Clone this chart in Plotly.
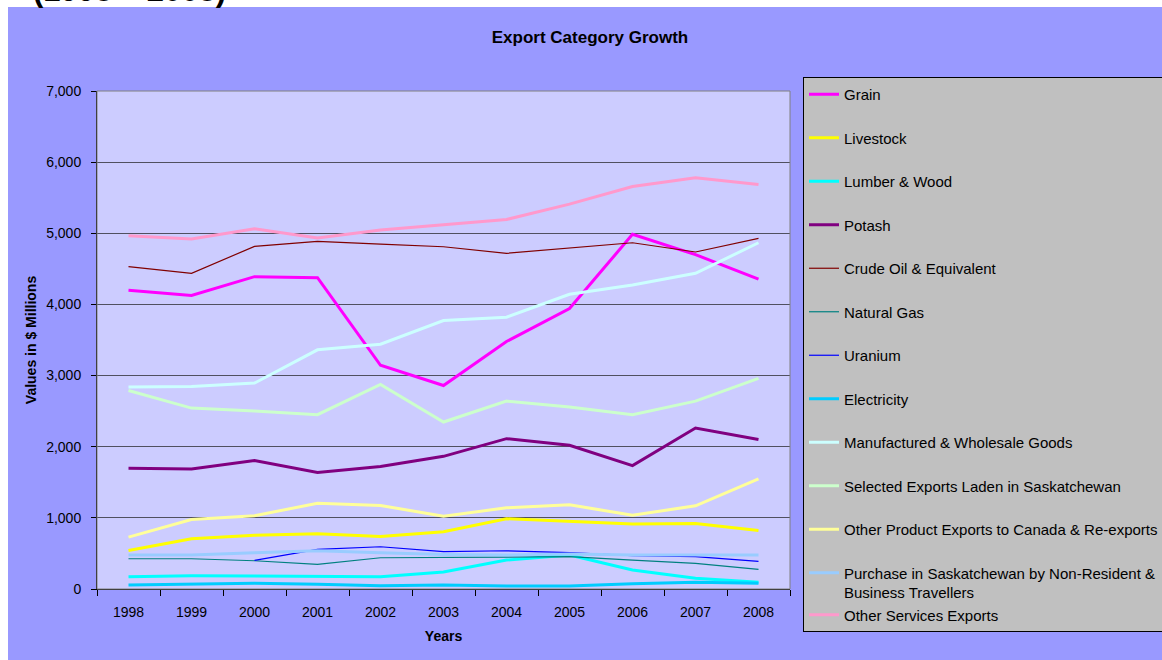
import plotly.graph_objects as go

years = ["1998", "1999", "2000", "2001", "2002", "2003", "2004", "2005", "2006", "2007", "2008"]

grain = [4200, 4125, 4390, 4376, 3145, 2860, 3479, 3942, 4985, 4700, 4355]
livestock = [542, 706, 757, 776, 739, 805, 987, 954, 912, 921, 823]
lumber_wood = [173, 187, 182, 173, 173, 240, 407, 477, 267, 150, 94]
potash = [1697, 1688, 1805, 1637, 1721, 1865, 2113, 2020, 1735, 2263, 2100]
crude_oil = [4531, 4437, 4816, 4886, 4849, 4811, 4718, 4793, 4867, 4737, 4928]
natural_gas = [425, 425, 397, 346, 439, 444, 444, 454, 407, 360, 276]
uranium = [None, None, 403, 557, 594, 524, 538, 510, 468, 454, 389]
electricity = [56, 70, 80, 66, 47, 56, 42, 42, 75, 94, 80]
manufactured = [2838, 2847, 2894, 3362, 3441, 3773, 3820, 4143, 4274, 4437, 4867]
selected_laden = [2791, 2543, 2502, 2450, 2876, 2347, 2641, 2557, 2450, 2641, 2960]
other_product = [729, 977, 1029, 1206, 1174, 1024, 1141, 1183, 1038, 1169, 1548]
purchase_travellers = [477, 477, 510, 538, 510, 486, 477, 491, 477, 477, 477]
other_services = [4965, 4919, 5064, 4933, 5046, 5116, 5194, 5410, 5658, 5779, 5686]

series = [
    ("Grain", grain, "#FF00FF", 3),
    ("Livestock", livestock, "#FFFF00", 3),
    ("Lumber & Wood", lumber_wood, "#00FFFF", 3),
    ("Potash", potash, "#800080", 3),
    ("Crude Oil & Equivalent", crude_oil, "#800000", 1.2),
    ("Natural Gas", natural_gas, "#008080", 1.2),
    ("Uranium", uranium, "#0000FF", 1.2),
    ("Electricity", electricity, "#00CCFF", 3),
    ("Manufactured & Wholesale Goods", manufactured, "#CCFFFF", 3),
    ("Selected Exports Laden in Saskatchewan", selected_laden, "#CCFFCC", 3),
    ("Other Product Exports to Canada & Re-exports", other_product, "#FFFF99", 3),
    ("Purchase in Saskatchewan by Non-Resident &<br>Business Travellers", purchase_travellers, "#99CCFF", 3),
    ("Other Services Exports", other_services, "#FF99CC", 3),
]

FONT = "Arial, Liberation Sans, sans-serif"

fig = go.Figure()
for i, (name, vals, color, w) in enumerate(series):
    group = f"g{min(i, 11)}"  # last two share a group (the two-line entry already adds height)
    fig.add_trace(go.Scatter(
        x=years, y=vals, name=name, mode="lines",
        line=dict(color=color, width=w),
        legendgroup=group, connectgaps=False,
    ))

W, H = 1162, 660
L, R, T, B = 97, 372, 91, 71
pw, ph = W - L - R, H - T - B

def px_x(p):
    return (p - L) / pw

def px_y(p):
    return (H - B - p) / ph

fig.update_layout(
    width=W, height=H,
    margin=dict(l=L, r=R, t=T, b=B, autoexpand=False),
    paper_bgcolor="#9999FF",
    plot_bgcolor="#CCCCFF",
    font=dict(family=FONT, color="black", size=14),
    title=dict(text="<b>Export Category Growth</b>", x=590 / W, xanchor="center",
               y=1 - 37 / H, yanchor="middle", font=dict(size=17, family=FONT)),
    showlegend=True,
    legend=dict(
        xref="container", yref="container",
        x=803 / W, y=1 - 77 / H, xanchor="left", yanchor="top",
        bgcolor="#C0C0C0", bordercolor="black", borderwidth=1,
        font=dict(size=15, family=FONT), tracegroupgap=21, valign="top",
        maxheight=620, entrywidth=400, entrywidthmode="pixels",
        itemclick=False, itemdoubleclick=False,
    ),
    xaxis=dict(
        type="category", range=[-0.5, 10.5], showgrid=False,
        showline=True, linecolor="black", linewidth=1,
        ticks="outside", tickson="boundaries", ticklen=6, tickcolor="black",
        tickfont=dict(size=14), ticklabelstandoff=10,
        title=dict(text="<b>Years</b>", font=dict(size=14), standoff=12),
        zeroline=False,
    ),
    yaxis=dict(
        range=[0, 7000], dtick=1000, tickformat=",",
        showgrid=True, gridcolor="#505060", gridwidth=1,
        showline=True, linecolor="black", linewidth=1,
        ticks="outside", ticklen=5, tickcolor="black",
        tickfont=dict(size=14), ticklabelstandoff=7,
        title=dict(text="<b>Values in $ Millions</b>", font=dict(size=14), standoff=6),
        zeroline=False,
    ),
    shapes=[
        # white page strips above and left of the chart area
        dict(type="rect", xref="paper", yref="paper", x0=-0.3, x1=1.8,
             y0=px_y(7), y1=px_y(-20), fillcolor="white", line=dict(width=0), layer="below"),
        dict(type="rect", xref="paper", yref="paper", x0=px_x(-20), x1=px_x(8),
             y0=px_y(680), y1=px_y(-20), fillcolor="white", line=dict(width=0), layer="below"),
        # plot area border
        dict(type="rect", xref="x domain", yref="y domain", x0=0, x1=1, y0=0, y1=1,
             line=dict(color="#808080", width=1), fillcolor="rgba(0,0,0,0)", layer="above"),
    ],
    annotations=[
        dict(text="<b>(1998 – 2008)</b>", xref="paper", yref="paper",
             x=px_x(129.5), y=px_y(-9), xanchor="center", yanchor="middle",
             showarrow=False, font=dict(size=31, family=FONT, color="black")),
    ],
)

fig.write_html("out.html", config={"displayModeBar": False},
               post_script="document.body.style.margin='0';")
